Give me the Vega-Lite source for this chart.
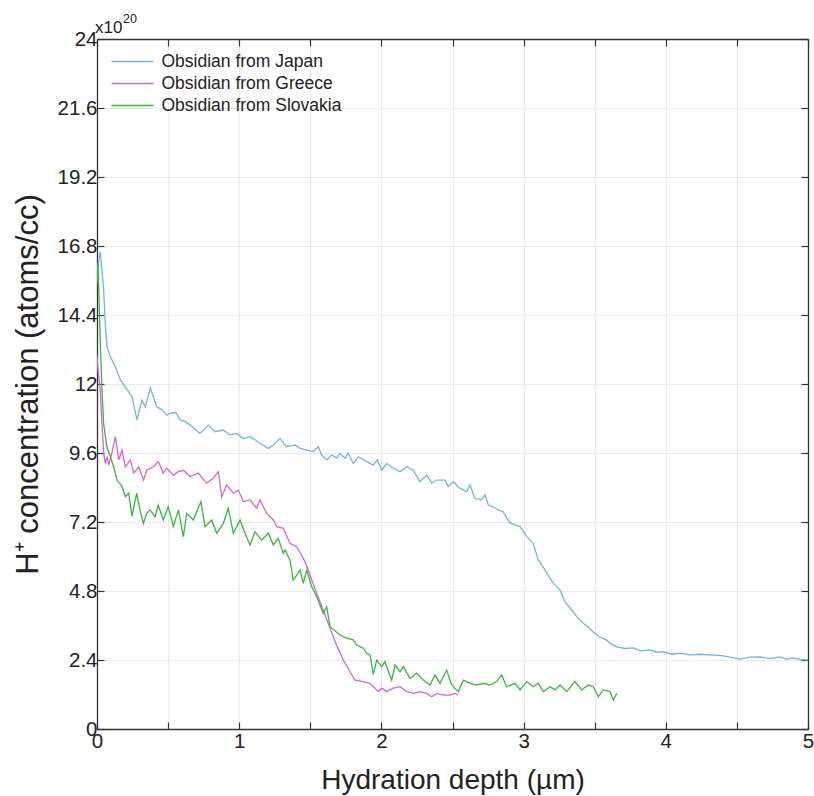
{
  "$schema": "https://vega.github.io/schema/vega-lite/v6.json",
  "width": 711,
  "height": 690,
  "autosize": {"type": "none"},
  "padding": {"left": 97, "top": 39, "right": 6, "bottom": 67},
  "background": "white",
  "config": {
    "font": "Liberation Sans",
    "view": {"stroke": null},
    "axis": {"labelFont": "Liberation Sans", "titleFont": "Liberation Sans", "labelColor": "#222", "titleColor": "#222", "titleFontWeight": "normal"}
  },
  "datasets": {
    "obs": [
      {"s": "Japan", "x": 0, "y": 15.9}, {"s": "Japan", "x": 0.023, "y": 16.6}, {"s": "Japan", "x": 0.047, "y": 15.27}, {"s": "Japan", "x": 0.058, "y": 14.1}, {"s": "Japan", "x": 0.07, "y": 13.3}, {"s": "Japan", "x": 0.094, "y": 12.95}, {"s": "Japan", "x": 0.129, "y": 12.6}, {"s": "Japan", "x": 0.164, "y": 12.14}, {"s": "Japan", "x": 0.199, "y": 11.9}, {"s": "Japan", "x": 0.246, "y": 11.56}, {"s": "Japan", "x": 0.281, "y": 10.75}, {"s": "Japan", "x": 0.316, "y": 11.44}, {"s": "Japan", "x": 0.34, "y": 11.2}, {"s": "Japan", "x": 0.375, "y": 11.86}, {"s": "Japan", "x": 0.42, "y": 11.21}, {"s": "Japan", "x": 0.457, "y": 11.1}, {"s": "Japan", "x": 0.49, "y": 10.92}, {"s": "Japan", "x": 0.527, "y": 11.0}, {"s": "Japan", "x": 0.556, "y": 11.0}, {"s": "Japan", "x": 0.584, "y": 10.75}, {"s": "Japan", "x": 0.619, "y": 10.7}, {"s": "Japan", "x": 0.654, "y": 10.57}, {"s": "Japan", "x": 0.724, "y": 10.28}, {"s": "Japan", "x": 0.783, "y": 10.57}, {"s": "Japan", "x": 0.83, "y": 10.34}, {"s": "Japan", "x": 0.888, "y": 10.4}, {"s": "Japan", "x": 0.935, "y": 10.23}, {"s": "Japan", "x": 0.982, "y": 10.28}, {"s": "Japan", "x": 1.029, "y": 10.1}, {"s": "Japan", "x": 1.076, "y": 10.17}, {"s": "Japan", "x": 1.146, "y": 9.94}, {"s": "Japan", "x": 1.205, "y": 9.76}, {"s": "Japan", "x": 1.24, "y": 9.88}, {"s": "Japan", "x": 1.287, "y": 10.1}, {"s": "Japan", "x": 1.334, "y": 9.82}, {"s": "Japan", "x": 1.392, "y": 9.88}, {"s": "Japan", "x": 1.428, "y": 9.76}, {"s": "Japan", "x": 1.475, "y": 9.7}, {"s": "Japan", "x": 1.521, "y": 9.65}, {"s": "Japan", "x": 1.556, "y": 9.82}, {"s": "Japan", "x": 1.58, "y": 9.53}, {"s": "Japan", "x": 1.615, "y": 9.36}, {"s": "Japan", "x": 1.65, "y": 9.53}, {"s": "Japan", "x": 1.686, "y": 9.42}, {"s": "Japan", "x": 1.709, "y": 9.59}, {"s": "Japan", "x": 1.744, "y": 9.42}, {"s": "Japan", "x": 1.767, "y": 9.59}, {"s": "Japan", "x": 1.802, "y": 9.24}, {"s": "Japan", "x": 1.838, "y": 9.47}, {"s": "Japan", "x": 1.897, "y": 9.3}, {"s": "Japan", "x": 1.943, "y": 9.18}, {"s": "Japan", "x": 1.971, "y": 9.36}, {"s": "Japan", "x": 2.002, "y": 9.0}, {"s": "Japan", "x": 2.037, "y": 9.24}, {"s": "Japan", "x": 2.084, "y": 9.07}, {"s": "Japan", "x": 2.131, "y": 8.95}, {"s": "Japan", "x": 2.178, "y": 9.12}, {"s": "Japan", "x": 2.224, "y": 9.0}, {"s": "Japan", "x": 2.271, "y": 8.6}, {"s": "Japan", "x": 2.319, "y": 8.83}, {"s": "Japan", "x": 2.354, "y": 8.55}, {"s": "Japan", "x": 2.389, "y": 8.66}, {"s": "Japan", "x": 2.447, "y": 8.66}, {"s": "Japan", "x": 2.47, "y": 8.43}, {"s": "Japan", "x": 2.506, "y": 8.6}, {"s": "Japan", "x": 2.553, "y": 8.37}, {"s": "Japan", "x": 2.6, "y": 8.26}, {"s": "Japan", "x": 2.623, "y": 8.49}, {"s": "Japan", "x": 2.658, "y": 8.02}, {"s": "Japan", "x": 2.705, "y": 7.97}, {"s": "Japan", "x": 2.729, "y": 8.14}, {"s": "Japan", "x": 2.752, "y": 7.79}, {"s": "Japan", "x": 2.787, "y": 7.73}, {"s": "Japan", "x": 2.822, "y": 7.62}, {"s": "Japan", "x": 2.855, "y": 7.56}, {"s": "Japan", "x": 2.904, "y": 7.17}, {"s": "Japan", "x": 2.94, "y": 7.1}, {"s": "Japan", "x": 2.975, "y": 7.04}, {"s": "Japan", "x": 3.022, "y": 6.69}, {"s": "Japan", "x": 3.066, "y": 6.47}, {"s": "Japan", "x": 3.103, "y": 5.88}, {"s": "Japan", "x": 3.136, "y": 5.65}, {"s": "Japan", "x": 3.172, "y": 5.35}, {"s": "Japan", "x": 3.207, "y": 5.08}, {"s": "Japan", "x": 3.256, "y": 4.83}, {"s": "Japan", "x": 3.291, "y": 4.43}, {"s": "Japan", "x": 3.338, "y": 4.14}, {"s": "Japan", "x": 3.376, "y": 3.9}, {"s": "Japan", "x": 3.418, "y": 3.69}, {"s": "Japan", "x": 3.453, "y": 3.55}, {"s": "Japan", "x": 3.488, "y": 3.38}, {"s": "Japan", "x": 3.537, "y": 3.2}, {"s": "Japan", "x": 3.584, "y": 3.09}, {"s": "Japan", "x": 3.615, "y": 2.95}, {"s": "Japan", "x": 3.655, "y": 2.86}, {"s": "Japan", "x": 3.713, "y": 2.8}, {"s": "Japan", "x": 3.769, "y": 2.82}, {"s": "Japan", "x": 3.826, "y": 2.72}, {"s": "Japan", "x": 3.889, "y": 2.75}, {"s": "Japan", "x": 3.938, "y": 2.67}, {"s": "Japan", "x": 3.98, "y": 2.69}, {"s": "Japan", "x": 4.044, "y": 2.6}, {"s": "Japan", "x": 4.1, "y": 2.64}, {"s": "Japan", "x": 4.17, "y": 2.58}, {"s": "Japan", "x": 4.24, "y": 2.6}, {"s": "Japan", "x": 4.332, "y": 2.57}, {"s": "Japan", "x": 4.395, "y": 2.55}, {"s": "Japan", "x": 4.452, "y": 2.5}, {"s": "Japan", "x": 4.522, "y": 2.43}, {"s": "Japan", "x": 4.592, "y": 2.5}, {"s": "Japan", "x": 4.662, "y": 2.51}, {"s": "Japan", "x": 4.733, "y": 2.45}, {"s": "Japan", "x": 4.803, "y": 2.51}, {"s": "Japan", "x": 4.845, "y": 2.43}, {"s": "Japan", "x": 4.895, "y": 2.47}, {"s": "Japan", "x": 4.944, "y": 2.42}, {"s": "Japan", "x": 5.0, "y": 2.4},

      {"s": "Greece", "x": 0, "y": 13.0}, {"s": "Greece", "x": 0.007, "y": 12.5}, {"s": "Greece", "x": 0.023, "y": 11.8}, {"s": "Greece", "x": 0.035, "y": 10.6}, {"s": "Greece", "x": 0.047, "y": 9.6}, {"s": "Greece", "x": 0.058, "y": 9.24}, {"s": "Greece", "x": 0.07, "y": 9.47}, {"s": "Greece", "x": 0.082, "y": 9.18}, {"s": "Greece", "x": 0.105, "y": 9.6}, {"s": "Greece", "x": 0.129, "y": 10.17}, {"s": "Greece", "x": 0.153, "y": 9.36}, {"s": "Greece", "x": 0.176, "y": 9.7}, {"s": "Greece", "x": 0.199, "y": 9.12}, {"s": "Greece", "x": 0.234, "y": 9.36}, {"s": "Greece", "x": 0.258, "y": 8.9}, {"s": "Greece", "x": 0.293, "y": 9.12}, {"s": "Greece", "x": 0.328, "y": 8.66}, {"s": "Greece", "x": 0.35, "y": 9.0}, {"s": "Greece", "x": 0.396, "y": 9.12}, {"s": "Greece", "x": 0.431, "y": 9.3}, {"s": "Greece", "x": 0.466, "y": 8.9}, {"s": "Greece", "x": 0.49, "y": 9.07}, {"s": "Greece", "x": 0.537, "y": 8.83}, {"s": "Greece", "x": 0.57, "y": 8.95}, {"s": "Greece", "x": 0.607, "y": 9.0}, {"s": "Greece", "x": 0.654, "y": 8.78}, {"s": "Greece", "x": 0.712, "y": 8.9}, {"s": "Greece", "x": 0.771, "y": 8.55}, {"s": "Greece", "x": 0.818, "y": 8.72}, {"s": "Greece", "x": 0.853, "y": 8.95}, {"s": "Greece", "x": 0.877, "y": 8.08}, {"s": "Greece", "x": 0.912, "y": 8.49}, {"s": "Greece", "x": 0.959, "y": 8.2}, {"s": "Greece", "x": 0.994, "y": 8.31}, {"s": "Greece", "x": 1.029, "y": 7.91}, {"s": "Greece", "x": 1.076, "y": 7.97}, {"s": "Greece", "x": 1.123, "y": 7.68}, {"s": "Greece", "x": 1.146, "y": 7.97}, {"s": "Greece", "x": 1.193, "y": 7.5}, {"s": "Greece", "x": 1.24, "y": 7.27}, {"s": "Greece", "x": 1.264, "y": 7.04}, {"s": "Greece", "x": 1.31, "y": 6.98}, {"s": "Greece", "x": 1.357, "y": 6.46}, {"s": "Greece", "x": 1.404, "y": 6.34}, {"s": "Greece", "x": 1.451, "y": 5.94}, {"s": "Greece", "x": 1.486, "y": 5.53}, {"s": "Greece", "x": 1.51, "y": 5.18}, {"s": "Greece", "x": 1.545, "y": 4.72}, {"s": "Greece", "x": 1.591, "y": 4.14}, {"s": "Greece", "x": 1.639, "y": 3.5}, {"s": "Greece", "x": 1.686, "y": 2.9}, {"s": "Greece", "x": 1.732, "y": 2.4}, {"s": "Greece", "x": 1.779, "y": 1.99}, {"s": "Greece", "x": 1.814, "y": 1.7}, {"s": "Greece", "x": 1.873, "y": 1.65}, {"s": "Greece", "x": 1.92, "y": 1.59}, {"s": "Greece", "x": 1.955, "y": 1.42}, {"s": "Greece", "x": 1.978, "y": 1.3}, {"s": "Greece", "x": 2.002, "y": 1.42}, {"s": "Greece", "x": 2.037, "y": 1.3}, {"s": "Greece", "x": 2.084, "y": 1.42}, {"s": "Greece", "x": 2.131, "y": 1.47}, {"s": "Greece", "x": 2.178, "y": 1.3}, {"s": "Greece", "x": 2.224, "y": 1.24}, {"s": "Greece", "x": 2.271, "y": 1.3}, {"s": "Greece", "x": 2.319, "y": 1.24}, {"s": "Greece", "x": 2.354, "y": 1.12}, {"s": "Greece", "x": 2.389, "y": 1.24}, {"s": "Greece", "x": 2.435, "y": 1.18}, {"s": "Greece", "x": 2.482, "y": 1.18}, {"s": "Greece", "x": 2.518, "y": 1.24}, {"s": "Greece", "x": 2.541, "y": 1.18},

      {"s": "Slovakia", "x": 0, "y": 15.5}, {"s": "Slovakia", "x": 0.007, "y": 16.2}, {"s": "Slovakia", "x": 0.023, "y": 13.5}, {"s": "Slovakia", "x": 0.035, "y": 11.8}, {"s": "Slovakia", "x": 0.047, "y": 10.6}, {"s": "Slovakia", "x": 0.07, "y": 9.8}, {"s": "Slovakia", "x": 0.094, "y": 9.47}, {"s": "Slovakia", "x": 0.117, "y": 9.12}, {"s": "Slovakia", "x": 0.141, "y": 8.66}, {"s": "Slovakia", "x": 0.176, "y": 8.43}, {"s": "Slovakia", "x": 0.199, "y": 8.08}, {"s": "Slovakia", "x": 0.223, "y": 8.2}, {"s": "Slovakia", "x": 0.246, "y": 7.4}, {"s": "Slovakia", "x": 0.279, "y": 8.2}, {"s": "Slovakia", "x": 0.302, "y": 7.62}, {"s": "Slovakia", "x": 0.326, "y": 7.15}, {"s": "Slovakia", "x": 0.35, "y": 7.5}, {"s": "Slovakia", "x": 0.373, "y": 7.62}, {"s": "Slovakia", "x": 0.408, "y": 7.38}, {"s": "Slovakia", "x": 0.431, "y": 7.79}, {"s": "Slovakia", "x": 0.466, "y": 7.27}, {"s": "Slovakia", "x": 0.501, "y": 7.73}, {"s": "Slovakia", "x": 0.537, "y": 7.04}, {"s": "Slovakia", "x": 0.572, "y": 7.62}, {"s": "Slovakia", "x": 0.607, "y": 6.69}, {"s": "Slovakia", "x": 0.631, "y": 7.5}, {"s": "Slovakia", "x": 0.677, "y": 7.27}, {"s": "Slovakia", "x": 0.731, "y": 7.91}, {"s": "Slovakia", "x": 0.759, "y": 7.04}, {"s": "Slovakia", "x": 0.807, "y": 7.27}, {"s": "Slovakia", "x": 0.842, "y": 6.81}, {"s": "Slovakia", "x": 0.888, "y": 7.15}, {"s": "Slovakia", "x": 0.923, "y": 7.68}, {"s": "Slovakia", "x": 0.959, "y": 6.81}, {"s": "Slovakia", "x": 1.006, "y": 7.27}, {"s": "Slovakia", "x": 1.041, "y": 6.81}, {"s": "Slovakia", "x": 1.076, "y": 6.4}, {"s": "Slovakia", "x": 1.111, "y": 6.86}, {"s": "Slovakia", "x": 1.158, "y": 6.57}, {"s": "Slovakia", "x": 1.205, "y": 6.81}, {"s": "Slovakia", "x": 1.24, "y": 6.4}, {"s": "Slovakia", "x": 1.275, "y": 6.63}, {"s": "Slovakia", "x": 1.31, "y": 6.11}, {"s": "Slovakia", "x": 1.322, "y": 6.23}, {"s": "Slovakia", "x": 1.357, "y": 5.88}, {"s": "Slovakia", "x": 1.38, "y": 5.18}, {"s": "Slovakia", "x": 1.428, "y": 5.53}, {"s": "Slovakia", "x": 1.451, "y": 5.07}, {"s": "Slovakia", "x": 1.475, "y": 5.53}, {"s": "Slovakia", "x": 1.51, "y": 4.95}, {"s": "Slovakia", "x": 1.545, "y": 4.6}, {"s": "Slovakia", "x": 1.591, "y": 4.02}, {"s": "Slovakia", "x": 1.615, "y": 4.25}, {"s": "Slovakia", "x": 1.639, "y": 3.56}, {"s": "Slovakia", "x": 1.709, "y": 3.27}, {"s": "Slovakia", "x": 1.756, "y": 3.16}, {"s": "Slovakia", "x": 1.802, "y": 3.1}, {"s": "Slovakia", "x": 1.826, "y": 2.92}, {"s": "Slovakia", "x": 1.873, "y": 2.81}, {"s": "Slovakia", "x": 1.897, "y": 2.63}, {"s": "Slovakia", "x": 1.92, "y": 2.57}, {"s": "Slovakia", "x": 1.943, "y": 1.9}, {"s": "Slovakia", "x": 1.967, "y": 2.4}, {"s": "Slovakia", "x": 2.002, "y": 2.17}, {"s": "Slovakia", "x": 2.025, "y": 2.34}, {"s": "Slovakia", "x": 2.072, "y": 1.7}, {"s": "Slovakia", "x": 2.096, "y": 2.23}, {"s": "Slovakia", "x": 2.131, "y": 1.99}, {"s": "Slovakia", "x": 2.154, "y": 2.17}, {"s": "Slovakia", "x": 2.201, "y": 1.76}, {"s": "Slovakia", "x": 2.248, "y": 1.94}, {"s": "Slovakia", "x": 2.295, "y": 1.7}, {"s": "Slovakia", "x": 2.342, "y": 1.53}, {"s": "Slovakia", "x": 2.377, "y": 1.88}, {"s": "Slovakia", "x": 2.412, "y": 1.59}, {"s": "Slovakia", "x": 2.459, "y": 2.05}, {"s": "Slovakia", "x": 2.494, "y": 1.53}, {"s": "Slovakia", "x": 2.541, "y": 1.3}, {"s": "Slovakia", "x": 2.576, "y": 1.7}, {"s": "Slovakia", "x": 2.623, "y": 1.59}, {"s": "Slovakia", "x": 2.67, "y": 1.53}, {"s": "Slovakia", "x": 2.717, "y": 1.59}, {"s": "Slovakia", "x": 2.764, "y": 1.53}, {"s": "Slovakia", "x": 2.811, "y": 1.65}, {"s": "Slovakia", "x": 2.846, "y": 1.88}, {"s": "Slovakia", "x": 2.881, "y": 1.47}, {"s": "Slovakia", "x": 2.94, "y": 1.59}, {"s": "Slovakia", "x": 2.975, "y": 1.36}, {"s": "Slovakia", "x": 3.022, "y": 1.65}, {"s": "Slovakia", "x": 3.068, "y": 1.47}, {"s": "Slovakia", "x": 3.103, "y": 1.59}, {"s": "Slovakia", "x": 3.139, "y": 1.3}, {"s": "Slovakia", "x": 3.186, "y": 1.47}, {"s": "Slovakia", "x": 3.221, "y": 1.36}, {"s": "Slovakia", "x": 3.256, "y": 1.53}, {"s": "Slovakia", "x": 3.303, "y": 1.3}, {"s": "Slovakia", "x": 3.361, "y": 1.65}, {"s": "Slovakia", "x": 3.409, "y": 1.36}, {"s": "Slovakia", "x": 3.455, "y": 1.53}, {"s": "Slovakia", "x": 3.49, "y": 1.47}, {"s": "Slovakia", "x": 3.525, "y": 1.12}, {"s": "Slovakia", "x": 3.561, "y": 1.36}, {"s": "Slovakia", "x": 3.608, "y": 1.3}, {"s": "Slovakia", "x": 3.631, "y": 1.01}, {"s": "Slovakia", "x": 3.655, "y": 1.24}
    ],
    "notes": [
      {"t": "x10", "x": 0, "y": 24}
    ],
    "sup": [
      {"t": "20", "x": 0, "y": 24}
    ]
  },
  "layer": [
    {
      "data": {"name": "obs"},
      "mark": {"type": "line", "strokeWidth": 1.3, "clip": true},
      "encoding": {
        "x": {
          "field": "x", "type": "quantitative",
          "scale": {"domain": [0, 5], "nice": false, "zero": false},
          "axis": {
            "orient": "bottom",
            "title": "Hydration depth (µm)",
            "titleFontSize": 28, "titlePadding": 15,
            "values": [0, 0.5, 1, 1.5, 2, 2.5, 3, 3.5, 4, 4.5, 5],
            "labelExpr": "datum.value % 1 == 0 ? format(datum.value, 'd') : ''",
            "labelFontSize": 20.5, "labelPadding": 9,
            "tickSize": -7, "tickColor": "#333", "tickWidth": 1.2,
            "domainColor": "#333", "domainWidth": 1.3,
            "grid": true, "gridColor": "#e9e9e9", "gridWidth": 1,
            "labelFlush": false
          }
        },
        "y": {
          "field": "y", "type": "quantitative",
          "scale": {"domain": [0, 24], "nice": false},
          "axis": {
            "orient": "left",
            "title": "H⁺ concentration (atoms/cc)",
            "titleFontSize": 31, "titlePadding": 13,
            "values": [0, 2.4, 4.8, 7.2, 9.6, 12, 14.4, 16.8, 19.2, 21.6, 24],
            "labelExpr": "abs(datum.value - round(datum.value)) < 0.001 ? format(round(datum.value), 'd') : format(datum.value, '.1f')",
            "labelFontSize": 20.5, "labelPadding": 7,
            "tickSize": -7, "tickColor": "#333", "tickWidth": 1.2,
            "domainColor": "#333", "domainWidth": 1.3,
            "grid": true, "gridColor": "#e9e9e9", "gridWidth": 1,
            "labelFlush": false
          }
        },
        "color": {
          "field": "s", "type": "nominal",
          "scale": {"domain": ["Japan", "Greece", "Slovakia"], "range": ["#73b2e3", "#d465d4", "#3db43d"]},
          "legend": {
            "orient": "none", "legendX": 24, "legendY": 11,
            "title": null,
            "labelExpr": "'Obsidian from ' + datum.label",
            "symbolType": "M -2 0 L 2 0", "symbolSize": 441, "symbolStrokeWidth": 1.5,
            "labelFontSize": 17.5, "labelColor": "#222", "labelFont": "Liberation Sans", "labelLimit": 400,
            "rowPadding": 2, "labelOffset": 17.5
          }
        },
        "order": {"field": "x", "type": "quantitative"}
      }
    },
    {
      "data": {"name": "obs"},
      "mark": {"type": "line", "strokeOpacity": 0},
      "encoding": {
        "x": {
          "field": "x", "type": "quantitative",
          "axis": {
            "orient": "top", "title": null, "labels": false,
            "values": [0, 0.5, 1, 1.5, 2, 2.5, 3, 3.5, 4, 4.5, 5],
            "tickSize": -7, "tickColor": "#333", "tickWidth": 1.2,
            "domainColor": "#333", "domainWidth": 1.3, "grid": false
          }
        },
        "y": {
          "field": "y", "type": "quantitative",
          "axis": {
            "orient": "right", "title": null, "labels": false,
            "values": [0, 2.4, 4.8, 7.2, 9.6, 12, 14.4, 16.8, 19.2, 21.6, 24],
            "tickSize": -7, "tickColor": "#333", "tickWidth": 1.2,
            "domainColor": "#333", "domainWidth": 1.3, "grid": false
          }
        }
      }
    },
    {
      "data": {"name": "notes"},
      "mark": {"type": "text", "align": "left", "baseline": "alphabetic", "dx": -2, "dy": -6, "fontSize": 17, "font": "Liberation Sans", "color": "#222"},
      "encoding": {
        "x": {"field": "x", "type": "quantitative", "axis": null},
        "y": {"field": "y", "type": "quantitative", "axis": null},
        "text": {"field": "t"}
      }
    },
    {
      "data": {"name": "sup"},
      "mark": {"type": "text", "align": "left", "baseline": "alphabetic", "dx": 26, "dy": -16, "fontSize": 12.5, "font": "Liberation Sans", "color": "#222"},
      "encoding": {
        "x": {"field": "x", "type": "quantitative", "axis": null},
        "y": {"field": "y", "type": "quantitative", "axis": null},
        "text": {"field": "t"}
      }
    }
  ],
  "resolve": {"axis": {"x": "independent", "y": "independent"}}
}
